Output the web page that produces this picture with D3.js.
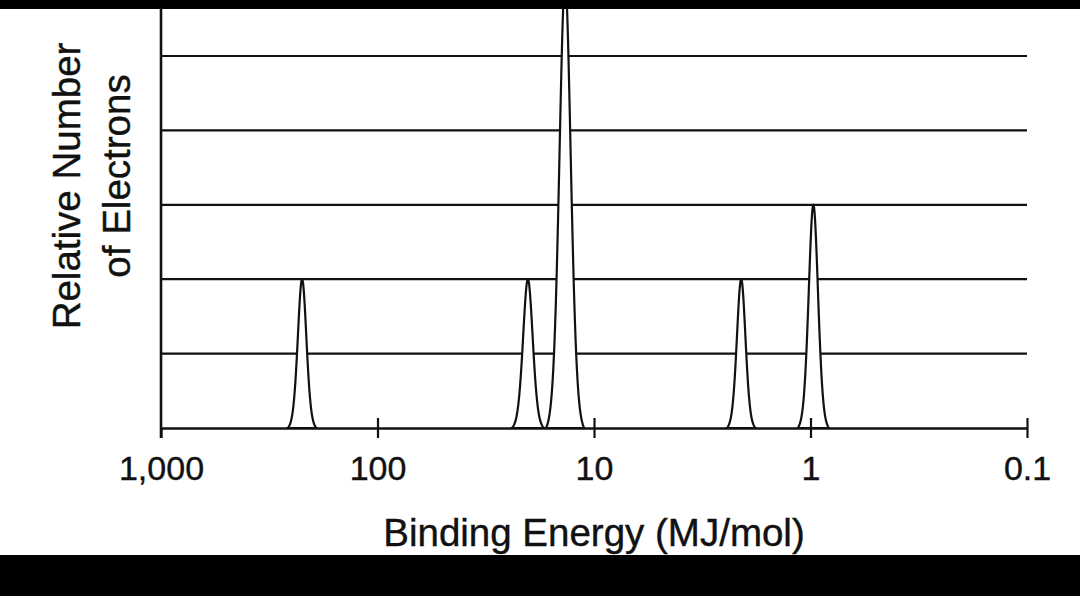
<!DOCTYPE html>
<style>
  body {
    margin: 0;
    background: #fff;
  }

  text {
    font-family: "Liberation Sans", Arial, sans-serif;
    fill: #111;
    stroke: #111;
    stroke-width: 0.4px;
  }

  .grid line,
  .axis path,
  .axis line {
    stroke: #111;
    fill: none;
  }

  .peak {
    fill: #fff;
    stroke: #111;
    stroke-width: 2.2px;
  }
</style>

<body>
  <div id="svg_frame"></div>
</body>
<script src="https://cdnjs.cloudflare.com/ajax/libs/d3/7.8.5/d3.js"></script>

<script>
  // peaks: binding energy (MJ/mol), electron count, peak width (decades)
  var energies = [223, 20.2, 13.6, 2.09, 0.97];
  var electrons = [2, 2, 6, 2, 3];
  var peakWidths = [0.0205, 0.023, 0.027, 0.0205, 0.0222];

  var tickValues = [1000, 100, 10, 1, 0.1];
  var tickLabels = ["1,000", "100", "10", "1", "0.1"];
  var gridValues = [1, 2, 3, 4, 5];

  var width = 1080,
    height = 596;

  var x = d3.scaleLog()
    .domain([1000, 0.1])
    .range([161, 1027]);

  var y = d3.scaleLinear()
    .domain([0, 5])
    .range([428, 56]);

  // pseudo-voigt shape, cut off so that it meets the baseline
  var eta = 0.25, cut = 3.25;
  function g(t) {
    return (1 - eta) * Math.exp(-t * t / 2) + eta / (1 + (t / 1.1774) * (t / 1.1774));
  }
  function profile(t) {
    return (g(t) - g(cut)) / (1 - g(cut));
  }

  var svg = d3.select("#svg_frame").append("svg")
    .attr("width", width)
    .attr("height", height);

  svg.append("rect")
    .attr("width", width)
    .attr("height", height)
    .attr("fill", "#fff");

  //grid lines
  svg.append("g")
    .attr("class", "grid")
    .selectAll("line")
    .data(gridValues)
    .enter().append("line")
    .attr("x1", x(1000))
    .attr("x2", x(0.1))
    .attr("y1", function (d) { return y(d); })
    .attr("y2", function (d) { return y(d); })
    .attr("stroke-width", 2.2);

  //peaks
  var peaks = energies.map(function (e, i) {
    var c = Math.log10(e), w = peakWidths[i];
    return d3.range(-cut, cut + 0.0001, cut / 120).map(function (t) {
      return { e: Math.pow(10, c + t * w), v: electrons[i] * profile(t) };
    });
  });

  var area = d3.area()
    .x(function (d) { return x(d.e); })
    .y0(y(0))
    .y1(function (d) { return y(d.v); });

  svg.append("g")
    .selectAll("path")
    .data(peaks)
    .enter().append("path")
    .attr("class", "peak")
    .attr("d", area);

  //x axis
  var xAxis = svg.append("g")
    .attr("class", "axis")
    .attr("transform", "translate(0," + y(0) + ")")
    .call(d3.axisBottom(x)
      .tickValues(tickValues)
      .tickFormat(function (d, i) { return tickLabels[i]; })
      .tickSizeOuter(0)
      .tickSizeInner(10));

  xAxis.select(".domain").attr("stroke-width", 2.6);
  xAxis.selectAll(".tick line")
    .attr("y1", function (d) { return d === 1000 ? 0 : -10; })
    .attr("y2", 10)
    .attr("stroke-width", 2.2);
  xAxis.selectAll(".tick text")
    .attr("y", 52)
    .attr("dy", 0)
    .style("font-size", "34px")
    .attr("fill", "#111");

  //y axis
  svg.append("line")
    .attr("x1", x(1000))
    .attr("x2", x(1000))
    .attr("y1", y(0) + 10)
    .attr("y2", 0)
    .attr("stroke", "#111")
    .attr("stroke-width", 2.6);

  svg.append("text")
    .attr("x", 594)
    .attr("y", 546)
    .attr("text-anchor", "middle")
    .style("font-size", "38.5px")
    .text("Binding Energy (MJ/mol)");

  svg.append("text")
    .attr("transform", "translate(80,186) rotate(-90)")
    .attr("text-anchor", "middle")
    .style("font-size", "38.5px")
    .text("Relative Number");

  svg.append("text")
    .attr("transform", "translate(130,176) rotate(-90)")
    .attr("text-anchor", "middle")
    .style("font-size", "38.5px")
    .text("of Electrons");

  // black bands above and below the picture
  svg.append("rect")
    .attr("x", 0).attr("y", 0)
    .attr("width", width).attr("height", 9)
    .attr("fill", "#000");

  svg.append("rect")
    .attr("x", 0).attr("y", 555)
    .attr("width", width).attr("height", height - 555)
    .attr("fill", "#000");
</script>
